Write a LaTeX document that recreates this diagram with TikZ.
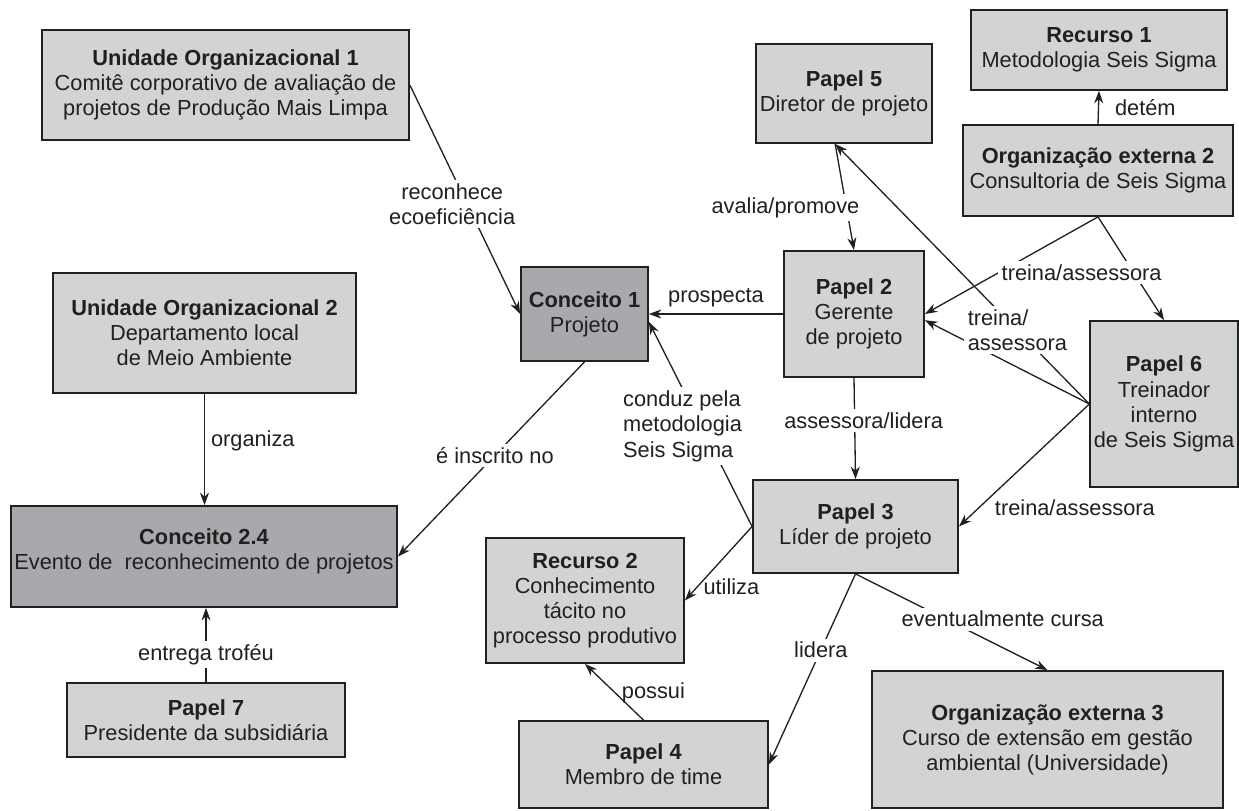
\documentclass[tikz,border=0pt]{standalone}
\usepackage{fontspec}
\setmainfont{Liberation Sans}
\usetikzlibrary{arrows.meta, positioning}
\definecolor{boxgray}{RGB}{209,211,212}
\definecolor{conceptgray}{RGB}{167,169,172}
\definecolor{inkblack}{RGB}{35,31,32}
\tikzset{
>={Stealth[length=2.5mm,width=1.8mm]}, % narrow filled arrow heads
every node/.style={font=\fontsize{12.4}{14.3}\selectfont, text=inkblack}, % one text size everywhere
box/.style={draw=inkblack, fill=boxgray, line width=1pt, align=center, inner sep=2pt}, % roles, units, resources
concept/.style={box, fill=conceptgray}, % the two concepts are darker
link/.style={->, draw=inkblack, line width=0.75pt}, % every connector
lbl/.style={fill=white, align=center, inner sep=2pt}, % label that cuts its line
}

\begin{document}
\begin{tikzpicture}
      \useasboundingbox (0,0) rectangle (24.78,-16.2);

      \node[box, minimum width=7.34cm, minimum height=2.2cm] (uo1) at (4.51,-1.70) {\textbf{Unidade Organizacional 1}\\Comitê corporativo de avaliação de\\projetos de Produção Mais Limpa};
      \node[box, minimum width=6.06cm, minimum height=2.4cm] (uo2) at (4.09,-6.66) {\textbf{Unidade Organizacional 2}\\Departamento local\\de Meio Ambiente};
      \node[concept, minimum width=7.72cm, minimum height=2.02cm, text depth=0.3cm] (c24) at (4.08,-11.13) {\textbf{Conceito 2.4}\\Evento de~ reconhecimento de projetos};
      \node[box, minimum width=5.56cm, minimum height=1.48cm] (p7) at (4.12,-14.40) {\textbf{Papel 7}\\Presidente da subsidiária};
      \node[concept, minimum width=2.54cm, minimum height=1.88cm] (c1) at (11.69,-6.28) {\textbf{Conceito 1}\\Projeto};
      \node[box, minimum width=2.8cm, minimum height=2.52cm] (p2) at (17.08,-6.28) {\textbf{Papel 2}\\Gerente\\de projeto};
      \node[box, minimum width=3.12cm, minimum height=1.98cm] (p5) at (16.88,-1.87) {\textbf{Papel 5}\\Diretor de projeto};
      \node[box, minimum width=5.12cm, minimum height=1.6cm] (r1) at (21.98,-1.00) {\textbf{Recurso 1}\\Metodologia Seis Sigma};
      \node[box, minimum width=5.4cm, minimum height=1.82cm] (oe2) at (21.96,-3.41) {\textbf{Organização externa 2}\\Consultoria de Seis Sigma};
      \node[box, minimum width=2.92cm, minimum height=3.32cm] (p6) at (23.28,-8.08) {\textbf{Papel 6}\\Treinador\\interno\\de Seis Sigma};
      \node[box, minimum width=4.1cm, minimum height=1.86cm] (p3) at (17.11,-10.53) {\textbf{Papel 3}\\Líder de projeto};
      \node[box, minimum width=3.96cm, minimum height=2.5cm] (r2) at (11.70,-12.01) {\textbf{Recurso 2}\\Conhecimento\\tácito no\\processo produtivo};
      \node[box, minimum width=4.98cm, minimum height=1.74cm] (p4) at (12.87,-15.29) {\textbf{Papel 4}\\Membro de time};
      \node[box, minimum width=7.02cm, minimum height=2.74cm] (oe3) at (20.95,-14.79) {\textbf{Organização externa 3}\\Curso de extensão em gestão\\ambiental (Universidade)};

      % left side
      \draw[link] (uo1.east) -- node[lbl, pos=0.52, xshift=-0.3cm] {reconhece\\ecoeficiência} (c1.west);
      \draw[link] (uo2.south) -- node[right, pos=0.42] {organiza} (uo2.south |- c24.north);
      \draw[link] (p7.north) -- node[lbl, pos=0.37] {entrega troféu} (p7.north |- c24.south);
      \draw[link] (c1.south) -- node[lbl, pos=0.48] {é inscrito no} (c24.east);
      \draw[link] (p2.west) -- node[above] {prospecta} (c1.east);

      % right side
      \draw[link] (p5.-100) -- node[lbl, pos=0.6, xshift=-1.22cm] {avalia/promove} (p2.north);
      \draw[link] (oe2.north) -- node[right, xshift=0.2cm] {detém} (r1.south);
      \draw[link] (oe2.south) -- (p2.east);
      \draw[link] (oe2.south) -- node[lbl, pos=0.54, xshift=-1.04cm] {treina/assessora} (p6.north);
      \draw[link] (p6.west) -- (p2.-5);
      \draw[link] (p6.west) -- node[lbl, pos=0.283, align=left] {treina/\\assessora} (p5.-100);
      \draw[link] (p6.west) -- node[pos=0.85, anchor=west, xshift=0.2cm] {treina/assessora} (p3.east);
      \draw[link] (p2.south) -- node[lbl, pos=0.42, xshift=0.18cm] {assessora/lidera} (p3.north);

      % from the project leader
      \draw[link] (p3.west) -- node[lbl, pos=0.49, xshift=-0.38cm, align=left] {conduz pela\\metodologia\\Seis Sigma} (c1.-7);
      \draw[link] (p3.west) -- node[pos=0.82, anchor=west] {utiliza} (r2.east);
      \draw[link] (p3.south) -- node[lbl, pos=0.4] {lidera} (p4.east);
      \draw[link] (p3.south) -- node[lbl, pos=0.47, xshift=1.14cm] {eventualmente cursa} (oe3.north);
      \draw[link] (p4.north) -- node[pos=0.48, anchor=west] {possui} (r2.south);
\end{tikzpicture}
\end{document}
